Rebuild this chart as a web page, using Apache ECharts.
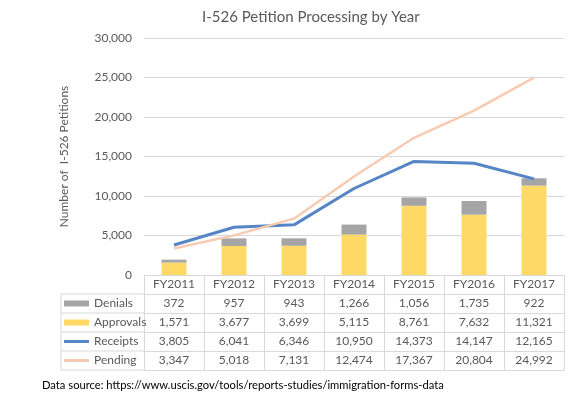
<!DOCTYPE html>
<html>
<head>
<meta charset="utf-8">
<script src="https://cdn.jsdelivr.net/npm/echarts@6/dist/echarts.min.js"></script>
<style>
  html, body { margin: 0; padding: 0; background: #fff; }
  #main { width: 586px; height: 396px; }
</style>
</head>
<body>
<div id="main"></div>
<script>
// fiscal years and I-526 counts
const years = ['FY2011', 'FY2012', 'FY2013', 'FY2014', 'FY2015', 'FY2016', 'FY2017']
const denials = [372, 957, 943, 1266, 1056, 1735, 922]
const approvals = [1571, 3677, 3699, 5115, 8761, 7632, 11321]
const receipts = [3805, 6041, 6346, 10950, 14373, 14147, 12165]
const pending = [3347, 5018, 7131, 12474, 17367, 20804, 24992]
const rowValues = [denials, approvals, receipts, pending]

const font = 'Lato'
const textGray = '#595959'
const lineGray = '#D9D9D9'
const rowH = 19

const chart = echarts.init(document.getElementById('main'))

// one extra x axis per table row, labels = that row's numbers
const tableAxes = rowValues.map((vals, k) => ({
    type: 'category',
    data: years,
    position: 'bottom',
    offset: rowH * (k + 1),
    axisLine: { show: true, onZero: false, lineStyle: { color: lineGray } },
    axisTick: { show: true, length: rowH, lineStyle: { color: lineGray } },
    axisLabel: {
        margin: 0, color: textGray, fontFamily: font, fontSize: 12, lineHeight: rowH,
        formatter: (v, i) => vals[i].toLocaleString('en-US')
    },
    splitLine: { show: false }
}))
// bottom border of the table
tableAxes.push({
    type: 'category',
    data: years,
    position: 'bottom',
    offset: rowH * 5,
    axisLine: { show: true, onZero: false, lineStyle: { color: lineGray } },
    axisTick: { show: false },
    axisLabel: { show: false },
    splitLine: { show: false }
})

// left column borders (legend cells)
const tableTop = 275 + rowH
const leftX = 61, colX = 144
const leftLines = [{ type: 'line', shape: { x1: leftX, y1: tableTop, x2: leftX, y2: tableTop + rowH * 4 } }]
for (let k = 0; k <= 4; k++) {
    leftLines.push({ type: 'line', shape: { x1: leftX, y1: tableTop + rowH * k, x2: colX, y2: tableTop + rowH * k } })
}
leftLines.forEach(l => { l.style = { stroke: lineGray, lineWidth: 1 }; l.silent = true })

const option = {
    animation: false,
    backgroundColor: '#fff',
    title: [
        {
            text: 'I-526 Petition Processing by Year',
            left: 197, top: 5,
            textStyle: { color: textGray, fontFamily: font, fontSize: 15, fontWeight: 'normal' }
        },
        {
            text: 'Data source: https://www.uscis.gov/tools/reports-studies/immigration-forms-data',
            left: 42, top: 380, padding: 0,
            textStyle: { color: '#000', fontFamily: font, fontSize: 11.2, fontWeight: 'normal' }
        }
    ],
    legend: {
        orient: 'vertical',
        left: 64, top: tableTop, padding: 0,
        itemGap: 0,
        itemWidth: 25, itemHeight: 6,
        textStyle: { color: textGray, fontFamily: font, fontSize: 12, lineHeight: rowH },
        data: [
            { name: 'Denials', icon: 'rect' },
            { name: 'Approvals', icon: 'rect' },
            { name: 'Receipts', icon: 'path://M0,0h25v3h-25z' },
            { name: 'Pending', icon: 'path://M0,0h25v3h-25z' }
        ]
    },
    grid: { left: 144, right: 22, top: 38, bottom: 121 },
    xAxis: [{
        type: 'category',
        data: years,
        axisLine: { show: true, onZero: false, lineStyle: { color: lineGray } },
        axisTick: { show: true, length: rowH, lineStyle: { color: lineGray } },
        axisLabel: { margin: 0, color: textGray, fontFamily: font, fontSize: 12, lineHeight: rowH },
        splitLine: { show: false }
    }].concat(tableAxes),
    yAxis: {
        type: 'value',
        min: 0, max: 30000, interval: 5000,
        name: 'Number of  I-526 Petitions',
        nameLocation: 'middle',
        nameGap: 74,
        nameTextStyle: { color: textGray, fontFamily: font, fontSize: 12 },
        axisLine: { show: false },
        axisTick: { show: false },
        axisLabel: {
            margin: 12, color: textGray, fontFamily: font, fontSize: 12,
            formatter: v => v.toLocaleString('en-US')
        },
        splitLine: { lineStyle: { color: lineGray } }
    },
    series: [
        {
            name: 'Approvals', type: 'bar', stack: 'done', barWidth: 25,
            itemStyle: { color: '#FFD966' }, data: approvals
        },
        {
            name: 'Denials', type: 'bar', stack: 'done', barWidth: 25,
            itemStyle: { color: '#A5A5A5' }, data: denials
        },
        {
            name: 'Receipts', type: 'line', symbol: 'none',
            lineStyle: { color: '#5585C5', width: 3 }, itemStyle: { color: '#5585C5' },
            data: receipts
        },
        {
            name: 'Pending', type: 'line', symbol: 'none',
            lineStyle: { color: '#F6CBB1', width: 2.5 }, itemStyle: { color: '#F6CBB1' },
            data: pending
        }
    ],
    graphic: leftLines
}

chart.setOption(option)
</script>
</body>
</html>
